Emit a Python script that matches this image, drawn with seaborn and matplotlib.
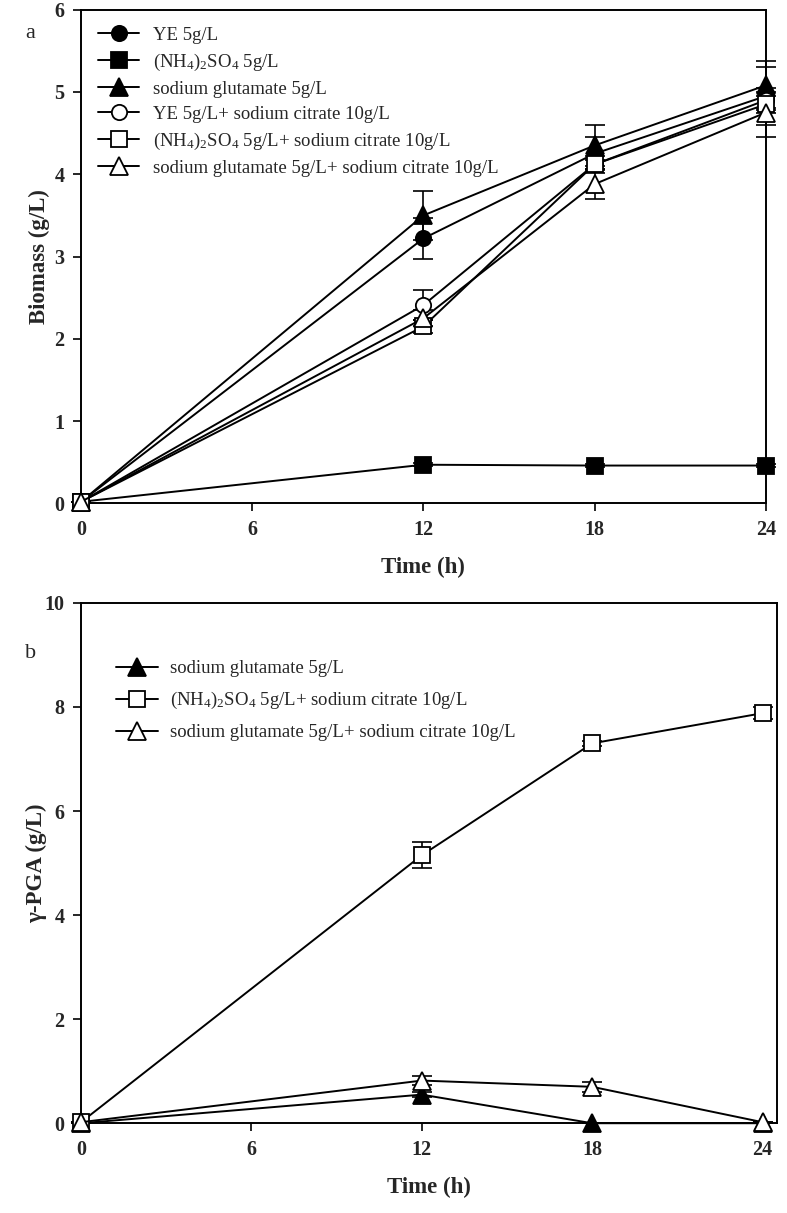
import numpy as np
import pandas as pd
import matplotlib
matplotlib.use("Agg")
import matplotlib.pyplot as plt
import seaborn as sns

# ---- data ----
time = [0, 12, 18, 24]

labels_a = ["YE 5g/L",
            "(NH$_4$)$_2$SO$_4$ 5g/L",
            "sodium glutamate 5g/L",
            "YE 5g/L+ sodium citrate 10g/L",
            "(NH$_4$)$_2$SO$_4$ 5g/L+ sodium citrate 10g/L",
            "sodium glutamate 5g/L+ sodium citrate 10g/L"]

ye          = [0.02, 3.22, 4.25, 4.95]
ye_err      = [0.00, 0.25, 0.20, 0.35]
nh4         = [0.02, 0.47, 0.46, 0.46]
nh4_err     = [0.00, 0.02, 0.02, 0.02]
glu         = [0.02, 3.50, 4.35, 5.08]
glu_err     = [0.00, 0.30, 0.25, 0.30]
ye_cit      = [0.02, 2.41, 4.12, 4.90]
ye_cit_err  = [0.00, 0.18, 0.10, 0.10]
nh4_cit     = [0.02, 2.15, 4.12, 4.85]
nh4_cit_err = [0.00, 0.08, 0.05, 0.10]
glu_cit     = [0.02, 2.25, 3.88, 4.75]
glu_cit_err = [0.00, 0.10, 0.18, 0.30]

labels_b = ["sodium glutamate 5g/L",
            "(NH$_4$)$_2$SO$_4$ 5g/L+ sodium citrate 10g/L",
            "sodium glutamate 5g/L+ sodium citrate 10g/L"]
pga_glu         = [0.00, 0.55, 0.00, 0.00]
pga_glu_err     = [0.00, 0.05, 0.00, 0.00]
pga_nh4_cit     = [0.02, 5.15, 7.30, 7.88]
pga_nh4_cit_err = [0.00, 0.25, 0.05, 0.12]
pga_glu_cit     = [0.02, 0.82, 0.70, 0.02]
pga_glu_cit_err = [0.00, 0.08, 0.10, 0.00]

# ---- style ----
sns.set_style("white")
plt.rcParams["font.family"] = ["Liberation Serif", "DejaVu Serif"]
plt.rcParams["mathtext.fontset"] = "custom"
plt.rcParams["mathtext.rm"] = "Liberation Serif"
plt.rcParams["mathtext.it"] = "Liberation Serif:italic"
plt.rcParams["mathtext.bf"] = "Liberation Serif:bold"

# marker, face colour
styles = [("o", "black"), ("s", "black"), ("^", "black"),
          ("o", "white"), ("s", "white"), ("^", "white")]

fig = plt.figure(figsize=(7.87, 12.13), dpi=100)
ax_a = fig.add_axes([0.103, 0.585, 0.870, 0.407])
ax_b = fig.add_axes([0.103, 0.074, 0.884, 0.429])


def draw(ax, series, labels, stl):
    for (vals, err), lab, (m, fc) in zip(series, labels, stl):
        df = pd.DataFrame({"t": time, "v": vals})
        ax.errorbar(time, vals, yerr=err, fmt="none", ecolor="black",
                    elinewidth=1.2, capsize=7, capthick=1.2, zorder=2,
                    clip_on=False)
        sns.lineplot(data=df, x="t", y="v", ax=ax, color="black", lw=1.4,
                     marker=m, markersize=11 if m != "^" else 12.5,
                     markerfacecolor=fc, markeredgecolor="black",
                     markeredgewidth=1.3, label=lab, zorder=3, clip_on=False)


draw(ax_a,
     [(ye, ye_err), (nh4, nh4_err), (glu, glu_err),
      (ye_cit, ye_cit_err), (nh4_cit, nh4_cit_err), (glu_cit, glu_cit_err)],
     labels_a, styles)
draw(ax_b,
     [(pga_glu, pga_glu_err), (pga_nh4_cit, pga_nh4_cit_err),
      (pga_glu_cit, pga_glu_cit_err)],
     labels_b, [styles[2], styles[4], styles[5]])

for ax in (ax_a, ax_b):
    for s in ax.spines.values():
        s.set_color("black")
        s.set_linewidth(1.4)
    ax.tick_params(axis="both", direction="out", length=6, width=1.4,
                   labelsize=14.5, left=True, bottom=True, top=False,
                   right=False, pad=6)
    ax.set_xlabel("Time (h)", fontsize=16.5, fontweight="bold", labelpad=12)

ax_a.set_xlim(0, 24)
ax_a.set_ylim(0, 6)
ax_a.set_xticks([0, 6, 12, 18, 24])
ax_a.set_yticks(range(0, 7))
ax_a.set_ylabel("Biomass (g/L)", fontsize=16.5, fontweight="bold", labelpad=3)

ax_b.set_xlim(0, 24.5)
ax_b.set_ylim(0, 10)
ax_b.set_xticks([0, 6, 12, 18, 24])
ax_b.set_yticks(range(0, 11, 2))
ax_b.set_ylabel("γ-PGA (g/L)", fontsize=16.5, fontweight="bold", labelpad=-2)

for ax in (ax_a, ax_b):
    for t in ax.get_xticklabels() + ax.get_yticklabels():
        t.set_fontweight("bold")

ax_a.legend(loc="upper left", bbox_to_anchor=(0.0, 1.0), frameon=False,
            fontsize=13.5, handlelength=2.2, handletextpad=0.75,
            labelspacing=0.42, borderaxespad=0.5)
ax_b.legend(loc="upper left", bbox_to_anchor=(0.032, 0.915), frameon=False,
            fontsize=13.5, handlelength=2.2, handletextpad=0.65,
            labelspacing=0.68, borderaxespad=0.3)

fig.text(25 / 787, 1 - 33 / 1213, "a", fontsize=16, ha="left", va="center")
fig.text(25 / 787, 1 - 653 / 1213, "b", fontsize=16, ha="left", va="center")

fig.savefig("out.png", dpi=100)
